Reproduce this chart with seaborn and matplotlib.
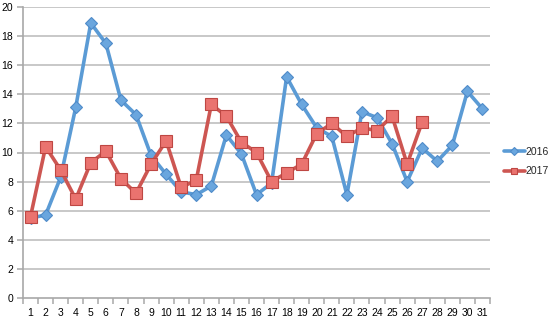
import matplotlib
matplotlib.use("Agg")
import matplotlib.pyplot as plt
import seaborn as sns
import pandas as pd
from matplotlib.ticker import MultipleLocator, FixedLocator

days = list(range(1, 32))
values_2016 = [5.5, 5.7, 8.3, 13.1, 18.9, 17.5, 13.6, 12.6, 9.8, 8.5,
               7.3, 7.1, 7.7, 11.2, 9.9, 7.1, 7.9, 15.2, 13.3, 11.7,
               11.1, 7.1, 12.8, 12.4, 10.6, 8.0, 10.3, 9.4, 10.5, 14.2, 13.0]
values_2017 = [5.6, 10.4, 8.8, 6.8, 9.3, 10.1, 8.2, 7.2, 9.2, 10.8,
               7.6, 8.1, 13.3, 12.5, 10.7, 10.0, 8.0, 8.6, 9.2, 11.3,
               12.0, 11.1, 11.7, 11.5, 12.5, 9.2, 12.1]
series_names = ["2016", "2017"]

df16 = pd.DataFrame({"day": days, "value": values_2016})
df17 = pd.DataFrame({"day": days[:len(values_2017)], "value": values_2017})

sns.set_theme(style="white")
plt.rcParams["font.family"] = ["Liberation Sans", "DejaVu Sans"]

fig = plt.figure(figsize=(5.56, 3.23), dpi=100)
ax = fig.add_axes([23 / 556, 25 / 323, 467 / 556, 291 / 323])

grid_color = "#C4C4C4"
for y in range(2, 21, 2):
    ax.axhline(y, color=grid_color, lw=1.3, zorder=0)

blue = "#5B9BD5"
red = "#CD5652"
sns.lineplot(data=df16, x="day", y="value", ax=ax, color=blue, lw=2.6,
             marker="D", markersize=6.5, markerfacecolor="#6AA6DE",
             markeredgecolor="#4F8BC9", markeredgewidth=0.8, label=series_names[0])
sns.lineplot(data=df17, x="day", y="value", ax=ax, color=red, lw=2.6,
             marker="s", markersize=8, markerfacecolor="#EA736F",
             markeredgecolor="#BE4743", markeredgewidth=0.8, label=series_names[1])

ax.set_xlim(0.5, 31.5)
ax.set_ylim(0, 20)
ax.set_xlabel("")
ax.set_ylabel("")
ax.set_xticks(days)
ax.set_xticklabels([str(d) for d in days])
ax.xaxis.set_minor_locator(FixedLocator([d + 0.5 for d in range(0, 32)]))
ax.yaxis.set_major_locator(MultipleLocator(2))

for side in ["top", "right"]:
    ax.spines[side].set_visible(False)
for side in ["left", "bottom"]:
    ax.spines[side].set_color("#A8A8A8")
    ax.spines[side].set_linewidth(1.2)

ax.tick_params(axis="x", which="major", length=0, labelsize=7.5, pad=7, labelcolor="black")
ax.tick_params(axis="x", which="minor", length=4, width=1.1, color="#A8A8A8", bottom=True)
ax.tick_params(axis="y", which="major", length=4, width=1.1, color="#A8A8A8",
               labelsize=7.5, pad=3, left=True, labelcolor="black")

ax.legend_.remove()
handles, labels = ax.get_legend_handles_labels()
fig.legend(handles, labels, loc="center left", bbox_to_anchor=(0.906, 0.5),
           frameon=False, fontsize=7.5, handlelength=2.0, handletextpad=0.1,
           labelspacing=0.9, borderaxespad=0, borderpad=0, markerscale=0.6)

fig.savefig("out.png", dpi=100)
